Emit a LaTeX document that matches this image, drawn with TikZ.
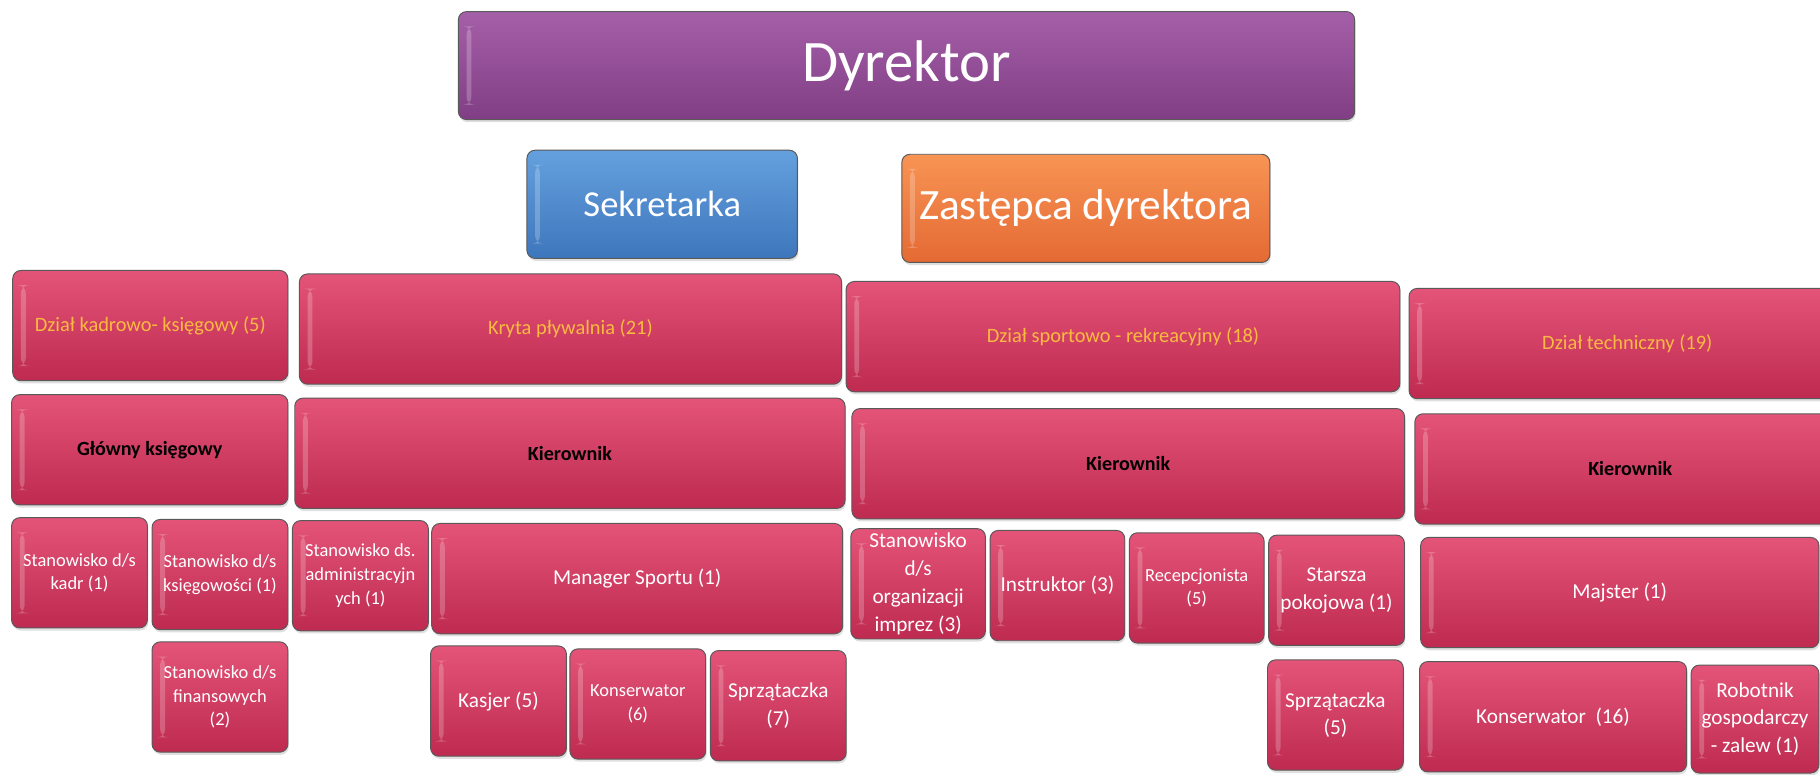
\documentclass[tikz,border=0pt]{standalone}
\usepackage{fontspec}
\setmainfont{Carlito}
\usetikzlibrary{shadows,positioning}

\definecolor{pinktop}{RGB}{228,84,120}
\definecolor{pinkbot}{RGB}{190,42,80}
\definecolor{purptop}{RGB}{165,95,168}
\definecolor{purpbot}{RGB}{128,62,132}
\definecolor{bluetop}{RGB}{100,160,222}
\definecolor{bluebot}{RGB}{62,118,188}
\definecolor{orngtop}{RGB}{248,148,84}
\definecolor{orngbot}{RGB}{228,106,52}
\definecolor{deptgold}{RGB}{250,186,64}

\tikzset{
  glossy/.style={rectangle, rounded corners=5pt, draw=black!65, line width=0.6pt,
    align=center, inner sep=2pt, minimum height=2.375cm,
    drop shadow={opacity=0.25, shadow xshift=0.6pt, shadow yshift=-1.6pt},
    path picture={\fill[white, opacity=0.22]
      ([xshift=5pt, yshift=-9pt]path picture bounding box.north west) rectangle
      ([xshift=8pt, yshift=9pt]path picture bounding box.south west);}},
  post/.style={glossy, top color=pinktop, bottom color=pinkbot, text=white,
    font=\fontsize{13}{17}\selectfont},
  postsmall/.style={post, font=\fontsize{11.3}{14.5}\selectfont},
  dept/.style={post, text=deptgold, font=\fontsize{12.5}{15}\selectfont},
  head/.style={post, text=black, font=\bfseries\fontsize{12.3}{15}\selectfont},
  boss/.style={glossy, text=white, font=\fontsize{36}{40}\selectfont},
  aide/.style={glossy, text=white, minimum height=2.33cm}
}

\begin{document}
\begin{tikzpicture}[x=0.025cm, y=-0.025cm]

    \clip (0,0) rectangle (1568,667);

    % Top
    \node[boss, top color=purptop, bottom color=purpbot, minimum width=19.3cm, minimum height=2.325cm] (dyr) at (781,56.5) {Dyrektor};
    \node[aide, top color=bluetop, bottom color=bluebot, font=\fontsize{22.4}{26}\selectfont, minimum width=5.825cm] (sek) at (570.5,176) {Sekretarka};
    \node[aide, top color=orngtop, bottom color=orngbot, font=\fontsize{26.5}{30}\selectfont, minimum width=7.925cm] (zast) at (935.5,179.5) {Zastępca dyrektora};

    % Departments
    \node[dept, minimum width=5.925cm] (dkk) at (129.5,280.5) {Dział kadrowo- księgowy (5)};
    \node[dept, minimum width=11.675cm] (kryta) at (491.5,283.5) {Kryta pływalnia (21)};
    \node[dept, minimum width=11.925cm] (dsr) at (967.5,290) {Dział sportowo - rekreacyjny (18)};
    \node[dept, minimum width=9.4cm] (dtech) at (1402,296) {Dział techniczny (19)};

    % Heads
    \node[head, minimum width=5.95cm] (glk) at (129,387.5) {Główny księgowy};
    \node[head, minimum width=11.85cm] (kier1) at (491,390.5) {Kierownik};
    \node[head, minimum width=11.9cm] (kier2) at (972,399.5) {Kierownik};
    \node[head, minimum width=9.275cm] (kier3) at (1404.5,404) {Kierownik};

    % Posts
    \node[postsmall, minimum width=2.925cm] (kadr) at (68.5,493.5) {Stanowisko d/s\\kadr (1)};
    \node[postsmall, minimum width=2.925cm] (ksieg) at (189.5,495) {Stanowisko d/s\\księgowości (1)};
    \node[postsmall, minimum width=2.925cm] (admin) at (310.5,496) {Stanowisko ds.\\administracyjn\\ych (1)};
    \node[post, minimum width=8.85cm] (mgr) at (549,498.5) {Manager Sportu (1)};
    \node[post, minimum width=2.9cm] (impr) at (791,503) {Stanowisko\\d/s\\organizacji\\imprez (3)};
    \node[post, minimum width=2.9cm] (instr) at (911,504.5) {Instruktor (3)};
    \node[postsmall, minimum width=2.9cm] (recep) at (1031,506.5) {Recepcjonista\\(5)};
    \node[post, minimum width=2.925cm] (start) at (1151.5,508.5) {Starsza\\pokojowa (1)};
    \node[post, minimum width=8.575cm] (majst) at (1395.5,510.5) {Majster (1)};

    % Lower posts
    \node[postsmall, minimum width=2.925cm] (fin) at (189.5,600.5) {Stanowisko d/s\\finansowych\\(2)};
    \node[post, minimum width=2.925cm] (kasj) at (429.5,604) {Kasjer (5)};
    \node[postsmall, minimum width=2.925cm] (kons6) at (549.5,606.5) {Konserwator\\(6)};
    \node[post, minimum width=2.925cm] (sprz7) at (670.5,608) {Sprzątaczka\\(7)};
    \node[post, minimum width=2.925cm] (sprz5) at (1150.5,616) {Sprzątaczka\\(5)};
    \node[post, minimum width=5.75cm] (kons16) at (1338,617.5) {Konserwator~ (16)};
    \node[post, minimum width=2.75cm, minimum height=2.325cm] (robot) at (1512,619.5) {Robotnik\\gospodarczy\\- zalew (1)};

\end{tikzpicture}
\end{document}
